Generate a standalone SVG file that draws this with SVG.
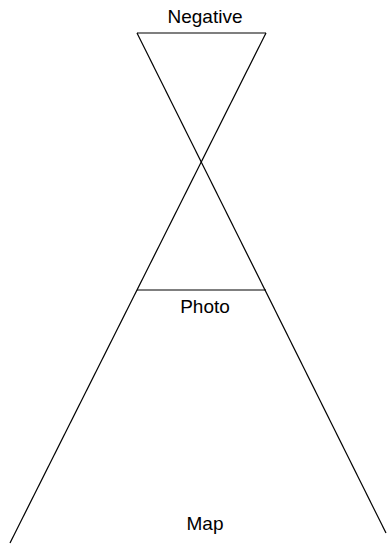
<svg xmlns="http://www.w3.org/2000/svg" width="387" height="545" viewBox="0 0 387 545">
<style>
.l{stroke:#000;stroke-width:1.2;fill:none}
.t{font-family:"Liberation Sans",Arial,sans-serif;font-size:19px;fill:#000;text-anchor:middle}
</style>
<rect width="387" height="545" fill="#fff"/>
<g id="connectors">
<line class="l" x1="137" y1="33" x2="266" y2="33"/>
<line class="l" x1="137" y1="290" x2="266" y2="290"/>
<line class="l" x1="137" y1="33" x2="386" y2="533"/>
<line class="l" x1="266" y1="33" x2="10" y2="543"/>
</g>
<g id="negative"><text class="t" x="205" y="23">Negative</text></g>
<g id="photo"><text class="t" x="205" y="313">Photo</text></g>
<g id="map"><text class="t" x="205" y="529.5">Map</text></g>
</svg>
